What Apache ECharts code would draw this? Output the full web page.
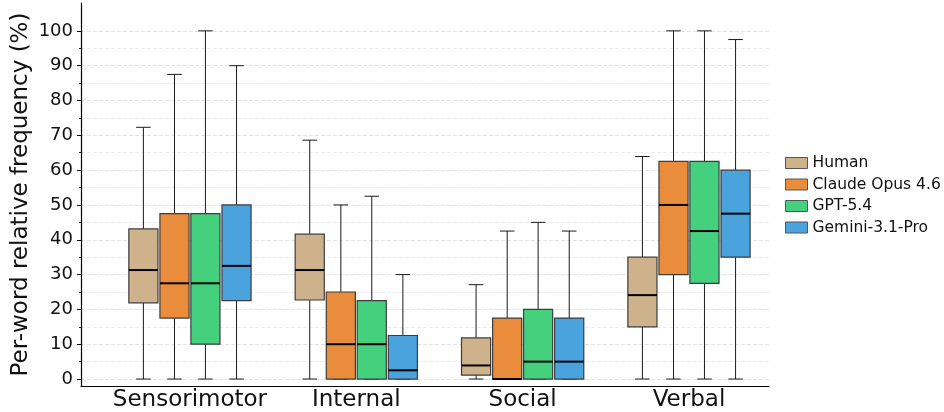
<!DOCTYPE html>
<html>
<head>
<meta charset="utf-8">
<script src="https://cdn.jsdelivr.net/npm/echarts@6/dist/echarts.min.js"></script>
<style>
html,body{margin:0;padding:0;background:#fff;}
#chart{width:944px;height:412px;}
</style>
</head>
<body>
<div id="chart"></div>
<script>
// ---- data ----
const categories = ['Sensorimotor', 'Internal', 'Social', 'Verbal'];
const seriesNames = ['Human', 'Claude Opus 4.6', 'GPT-5.4', 'Gemini-3.1-Pro'];
// each row: [min, q1, median, q3, max] per category
const humanStats  = [[0, 21.9, 31.3, 43.1, 72.3], [0, 22.7, 31.3, 41.6, 68.6], [0, 1.1, 3.9, 11.8, 27.1], [0, 15.0, 24.1, 35.0, 63.9]];
const claudeStats = [[0, 17.5, 27.5, 47.5, 87.5], [0, 0, 10.0, 25.0, 50.0], [0, 0, 0, 17.5, 42.5], [0, 30.0, 50.0, 62.5, 100]];
const gptStats    = [[0, 10.0, 27.5, 47.5, 100], [0, 0, 10.0, 22.5, 52.5], [0, 0, 5.0, 20.0, 45.0], [0, 27.5, 42.5, 62.5, 100]];
const geminiStats = [[0, 22.5, 32.5, 50.0, 90.0], [0, 0, 2.5, 12.5, 30.0], [0, 0, 5.0, 17.5, 42.5], [0, 35.0, 47.5, 60.0, 97.5]];
const yTickValues = [0, 10, 20, 30, 40, 50, 60, 70, 80, 90, 100];

// ---- style / layout ----
const allStats = [humanStats, claudeStats, gptStats, geminiStats];
const colors = ['#CEB28B', '#E98C3C', '#45D07E', '#4BA3DD'];
const offsets = [-0.28, -0.093, 0.093, 0.28];
const BOX_W = 0.175;
const FONT = 'DejaVu Sans';

const Y_MIN = -2, Y_MAX = 108;
const plotTop = 3, plotBottomPx = 386, H = 412;
const ppu = (plotBottomPx - plotTop) / (Y_MAX - Y_MIN);
const gridLeft = 81, gridRight = 175;

function makeRender(idx) {
  return function (params, api) {
    const x = api.value(0);
    const mn = api.value(1), q1 = api.value(2), md = api.value(3), q3 = api.value(4), mx = api.value(5);
    const unit = api.size([1, 0])[0];
    const cx = api.coord([x, 0])[0] + offsets[idx] * unit;
    const bw = BOX_W * unit;
    const cw = bw / 2;
    const y = v => api.coord([x, v])[1];
    const lineStyle = { stroke: '#1a1a1a', lineWidth: 1 };
    return {
      type: 'group',
      children: [
        { type: 'line', shape: { x1: cx, y1: y(mn), x2: cx, y2: y(q1) }, style: lineStyle },
        { type: 'line', shape: { x1: cx, y1: y(q3), x2: cx, y2: y(mx) }, style: lineStyle },
        { type: 'line', shape: { x1: cx - cw / 2, y1: y(mn), x2: cx + cw / 2, y2: y(mn) }, style: lineStyle },
        { type: 'line', shape: { x1: cx - cw / 2, y1: y(mx), x2: cx + cw / 2, y2: y(mx) }, style: lineStyle },
        { type: 'rect', shape: { x: cx - bw / 2, y: y(q3), width: bw, height: y(q1) - y(q3) },
          style: { fill: colors[idx], stroke: '#3d3d3d', lineWidth: 1.2 } },
        { type: 'line', shape: { x1: cx - bw / 2, y1: y(md), x2: cx + bw / 2, y2: y(md) },
          style: { stroke: '#000', lineWidth: 2 } }
      ]
    };
  };
}

const series = seriesNames.map((name, idx) => ({
  name: name,
  type: 'custom',
  xAxisIndex: 0,
  yAxisIndex: 0,
  renderItem: makeRender(idx),
  itemStyle: { color: colors[idx], borderColor: '#555', borderWidth: 1 },
  encode: { x: 0, y: [1, 2, 3, 4, 5] },
  data: allStats[idx].map((s, ci) => [ci].concat(s)),
  z: 3
}));

const chart = echarts.init(document.getElementById('chart'), null, { renderer: 'canvas' });
chart.setOption({
  animation: false,
  backgroundColor: '#fff',
  textStyle: { fontFamily: FONT },
  grid: [
    { left: gridLeft, right: gridRight, top: plotTop, bottom: H - plotBottomPx },
    { left: gridLeft, right: gridRight,
      top: plotTop + (Y_MAX - 100) * ppu,
      bottom: (H - plotBottomPx) + (0 - Y_MIN) * ppu }
  ],
  legend: {
    orient: 'vertical',
    left: 785,
    top: 155,
    padding: 0,
    itemWidth: 22,
    itemHeight: 11,
    itemGap: 5.5,
    icon: 'rect',
    textStyle: { fontFamily: FONT, fontSize: 15.5, color: '#111' },
    data: seriesNames.map((n, i) => ({ name: n, itemStyle: { color: colors[i], borderColor: '#555', borderWidth: 1 } }))
  },
  xAxis: [
    {
      type: 'value', gridIndex: 0,
      min: -0.655, max: 3.481, splitNumber: 4,
      axisLine: { show: true, onZero: false, lineStyle: { color: '#000', width: 1.2 } },
      axisTick: { show: false },
      splitLine: { show: false },
      axisLabel: {
        customValues: categories.map((c, i) => i),
        formatter: v => {
          const r = Math.round(v);
          return Math.abs(v - r) < 1e-6 && categories[r] !== undefined ? categories[r] : '';
        },
        fontFamily: FONT, fontSize: 23, color: '#111', margin: 3
      }
    },
    {
      type: 'value', gridIndex: 1, min: 0, max: 1, show: false
    }
  ],
  yAxis: [
    {
      type: 'value', gridIndex: 0,
      min: Y_MIN, max: Y_MAX,
      name: 'Per-word relative frequency (%)',
      nameLocation: 'middle',
      nameGap: 48,
      nameTextStyle: { fontFamily: FONT, fontSize: 23, color: '#111' },
      axisLine: { show: true, onZero: false, lineStyle: { color: '#000', width: 1.2 } },
      axisTick: { show: false },
      axisLabel: { show: false },
      splitLine: { show: false }
    },
    {
      type: 'value', gridIndex: 1,
      min: 0, max: 100, interval: 10,
      axisLine: { show: false },
      axisTick: { show: true, length: 4, lineStyle: { color: '#000', width: 1 } },
      minorTick: { show: true, splitNumber: 2, length: 2, lineStyle: { color: '#000', width: 0.8 } },
      axisLabel: {
        customValues: yTickValues,
        fontFamily: FONT, fontSize: 18, color: '#111', margin: 8
      },
      splitLine: { show: true, lineStyle: { color: '#dcdcdc', type: [4, 2], width: 0.8 } },
      minorSplitLine: { show: true, lineStyle: { color: '#e6e6e6', type: [4, 2], width: 0.8 } }
    }
  ],
  series: series
});
</script>
</body>
</html>
